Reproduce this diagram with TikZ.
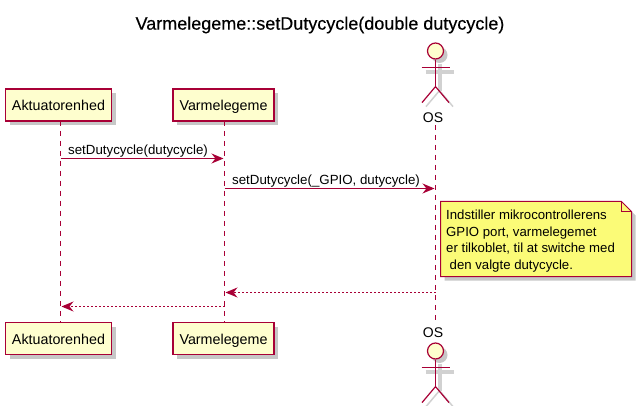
\documentclass[tikz,border=0pt]{standalone}
\usepackage{fontspec}
\setmainfont{Liberation Sans}
\newfontfamily\titlefont[FakeBold=0.35]{Liberation Sans}
\usetikzlibrary{positioning, arrows.meta, shadows}
\definecolor{umlline}{HTML}{A80036}
\definecolor{umlfill}{HTML}{FEFECE}
\definecolor{umlnote}{HTML}{FBFB77}
\tikzset{
  umlshadow/.style={drop shadow={shadow xshift=4pt, shadow yshift=-4pt, fill=black!40, opacity=0.55}},
  participant/.style={draw=umlline, fill=umlfill, line width=1.2pt, umlshadow, inner sep=0pt,
    minimum height=32pt, text height=12.5pt, text depth=0.5pt, font=\fontsize{14.3}{16}\selectfont},
  lifeline/.style={draw=umlline, line width=1pt, dash pattern=on 5pt off 5pt},
  msg/.style={draw=umlline, line width=1pt, -{Stealth[length=12pt, width=10pt, inset=4pt]}},
  reply/.style={msg, dash pattern=on 2pt off 2pt},
  msglabel/.style={font=\fontsize{13.3}{15}\selectfont, inner sep=0pt, anchor=base west},
  actorlabel/.style={font=\fontsize{14}{16}\selectfont, inner sep=0pt},
  actorhead/.style={circle, draw=umlline, fill=umlfill, line width=1.2pt, minimum size=16pt, inner sep=0pt, umlshadow},
  actorline/.style={draw=umlline, line width=1.2pt}
}
% one actor: head node #2 centred at #1, body below it
\newcommand{\umlactor}[2]{
  \node[actorhead] (#2) at #1 {};
  \coordinate (#2neck) at (#2.south);
  \coordinate[below=27pt of #2neck] (#2hip);
  \coordinate[below=8pt of #2neck, xshift=-14pt] (#2armL);
  \coordinate[below=8pt of #2neck, xshift=14pt] (#2armR);
  \coordinate[below=16pt of #2hip, xshift=-13.5pt] (#2legL);
  \coordinate[below=16pt of #2hip, xshift=13.5pt] (#2legR);
  \begin{scope}[transform canvas={shift={(4pt,-4pt)}}]
    \draw[black!18, line width=4pt] (#2neck) -- (#2hip) (#2armL) -- (#2armR);
    \draw[black!18, line width=1.5pt] (#2legL) -- (#2hip) -- (#2legR);
  \end{scope}
  \draw[actorline] (#2neck) -- (#2hip) (#2armL) -- (#2armR);
  \draw[actorline] (#2legL) -- (#2hip) -- (#2legR);
}

\begin{document}
\begin{tikzpicture}[x=1pt, y=-1pt]
  \useasboundingbox (0,0) rectangle (637,406);

  \node[font=\titlefont\fontsize{18}{20}\selectfont] (title) at (320,25) {Varmelegeme::setDutycycle(double dutycycle)};

  \node[participant, minimum width=106pt] (akt) at (58.5,105) {Aktuatorenhed};
  \node[participant, minimum width=101pt] (var) at (223.5,105) {Varmelegeme};
  \node[participant, minimum width=106pt] (aktB) at (58.5,338.5) {Aktuatorenhed};
  \node[participant, minimum width=101pt] (varB) at (223.5,338.5) {Varmelegeme};

  \umlactor{(435.5,51)}{os}
  \umlactor{(435.5,351)}{osB}
  \node[actorlabel] (oslabel) at (433,118) {OS};
  \node[actorlabel] (oslabelB) at (433,333) {OS};

  \coordinate (aktl) at (60.5,121);
  \coordinate (aktlB) at (60.5,323);
  \coordinate (varl) at (224.5,121);
  \coordinate (varlB) at (224.5,323);
  \coordinate (osl) at (435.5,125);
  \coordinate (oslB) at (435.5,323);
  \draw[lifeline] (aktl) -- (aktlB);
  \draw[lifeline] (varl) -- (varlB);
  \draw[lifeline] (osl) -- (oslB);

  \coordinate (m1a) at (60.5,158.5);
  \coordinate (m1b) at (223.5,158.5);
  \coordinate (m2a) at (224.5,188.5);
  \coordinate (m2b) at (434.5,188.5);
  \coordinate (m3a) at (435.5,292.5);
  \coordinate (m3b) at (225.5,292.5);
  \coordinate (m4a) at (224.5,306.5);
  \coordinate (m4b) at (61.5,306.5);

  \draw[msg] (m1a) -- (m1b);
  \draw[msg] (m2a) -- (m2b);
  \draw[reply] (m3a) -- (m3b);
  \draw[reply] (m4a) -- (m4b);

  \node[msglabel] (m1label) at (68,154.5) {setDutycycle(dutycycle)};
  \node[msglabel] (m2label) at (232,184.5) {setDutycycle(\_GPIO, dutycycle)};

  \coordinate (noteNW) at (440.5,201.5);
  \coordinate (noteNE) at (621.5,201.5);
  \coordinate (noteFold) at (631.5,211.5);
  \coordinate (noteSE) at (631.5,276.5);
  \coordinate (noteSW) at (440.5,276.5);
  \coordinate (noteCrease) at (621.5,211.5);
  \fill[black!40, opacity=0.55] ([shift={(4,4)}]noteNW) -- ([shift={(4,4)}]noteNE) -- ([shift={(4,4)}]noteFold) -- ([shift={(4,4)}]noteSE) -- ([shift={(4,4)}]noteSW) -- cycle;
  \draw[draw=umlline, fill=umlnote, line width=1pt] (noteNW) -- (noteNE) -- (noteFold) -- (noteSE) -- (noteSW) -- cycle;
  \draw[draw=umlline, line width=1pt] (noteNE) -- (noteCrease) -- (noteFold);
  \node[font=\fontsize{13.2}{16.5}\selectfont, align=left, inner sep=0pt, anchor=north west] (note) at (446,210)
    {Indstiller mikrocontrollerens\\GPIO port, varmelegemet\\er tilkoblet, til at switche med\\\hspace*{3.5pt}den valgte dutycycle.};
\end{tikzpicture}
\end{document}
